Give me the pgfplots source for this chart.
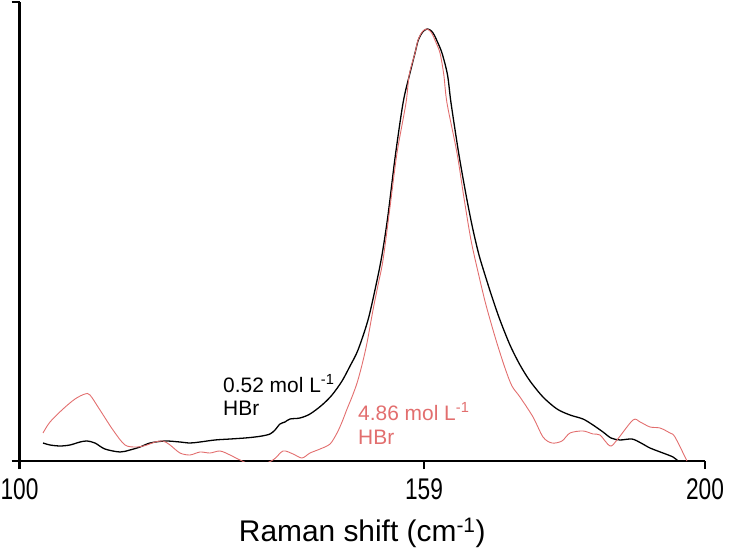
\documentclass[border=0pt]{standalone}
\usepackage{pgfplots}
\pgfplotsset{compat=1.18}
\usepackage{fontspec}
\setmainfont{Liberation Sans}
\newfontfamily\tickfont{Liberation Sans}[FakeStretch=0.76]

\definecolor{redline}{RGB}{226,110,110}

\begin{document}
\begin{tikzpicture}
\begin{axis}[
  scale only axis,
  width=685.5bp, height=459bp,
  xmin=100, xmax=200, ymin=0, ymax=100,
  axis x line=bottom, axis y line=left,
  axis line style={-, line width=2.2pt},
  xtick={100,159,200}, ytick={0,100}, yticklabels={},
  tick align=outside,
  major tick length=8bp,
  every tick/.style={black, line width=2.2pt},
  /pgf/number format/assume math mode=true,
  /pgf/number format/1000 sep={},
  xticklabel style={font=\tickfont\fontsize{30}{36}\selectfont, yshift=-6bp},
  xlabel={Raman shift (cm\textsuperscript{-1})},
  xlabel style={font=\fontsize{30}{36}\selectfont, yshift=-12bp},
]
\addplot[black, line width=1.3pt, smooth] coordinates {
(103.43,3.92) (104.45,3.49) (105.91,3.27) (107.37,3.49) (108.83,4.14)
(109.85,4.36) (111.01,3.92) (112.47,2.61) (114.66,1.96) (116.12,2.40)
(117.58,3.05) (119.04,3.92) (121.23,4.36) (123.41,4.14) (124.87,3.92)
(126.33,4.14) (128.52,4.58) (130.71,4.79) (132.90,5.01) (134.35,5.23)
(135.38,5.45) (136.54,5.88) (137.27,6.75) (138.00,8.06) (138.73,8.50)
(139.46,9.15) (140.92,9.37) (142.38,10.24) (144.13,12.20) (145.59,14.38)
(147.05,17.43) (148.22,20.70) (149.38,24.18) (150.84,30.72) (152.01,38.34)
(152.88,44.88) (153.76,53.59) (154.78,66.01) (155.95,78.00) (156.89,84.10)
(157.70,88.89) (158.13,91.50) (158.53,92.81) (158.95,93.68) (159.52,94.12)
(160.09,93.68) (160.50,92.81) (160.91,91.50) (161.63,88.89) (162.44,84.10)
(162.95,78.00) (164.11,66.67) (165.28,56.86) (166.16,50.33) (167.03,44.88)
(167.91,40.52) (168.93,35.73) (170.09,30.72) (171.55,25.27) (173.01,20.92)
(174.47,17.43) (176.37,13.94) (178.41,11.33) (180.31,10.02) (182.20,9.15)
(183.66,7.84) (185.12,6.32) (186.29,5.01) (187.60,4.58) (189.35,4.79)
(190.66,3.92) (191.98,2.83) (193.87,1.74) (195.34,0.87) (196.06,0)
};
\addplot[redline, line width=0.9pt, smooth] coordinates {
(103.43,6.10) (104.45,8.50) (106.35,11.33) (108.10,13.51) (109.55,14.60)
(110.28,14.38) (111.74,11.11) (113.64,6.75) (115.39,3.49) (117.14,3.05)
(118.60,3.49) (119.77,4.14) (120.93,4.36) (121.96,3.49) (123.41,1.74)
(124.87,1.31) (126.33,1.96) (127.79,1.74) (129.25,2.18) (130.71,1.31)
(132.17,0.22) (134.50,-1.10) (136.98,0.22) (138.44,2.18) (139.90,1.53)
(141.21,0.65) (142.38,1.74) (143.84,2.61) (145.30,3.70) (146.32,6.10)
(147.05,8.50) (147.78,11.33) (148.50,13.94) (149.24,16.99) (149.96,20.92)
(150.69,25.71) (151.57,32.90) (152.30,38.34) (153.03,43.79) (154.05,55.34)
(155.07,67.10) (156.38,78.00) (156.85,84.10) (157.70,88.89) (158.09,91.50)
(158.46,92.81) (158.85,93.68) (159.37,94.12) (159.90,93.68) (160.28,92.81)
(160.66,91.50) (161.34,88.89) (161.90,84.10) (162.36,78.00) (163.82,67.10)
(164.84,57.30) (165.86,48.15) (166.89,41.18) (168.05,33.99) (169.51,26.36)
(170.82,20.26) (171.84,16.34) (173.01,13.94) (174.91,9.59) (176.37,5.23)
(177.68,3.92) (179.14,4.36) (180.31,6.10) (182.20,6.54) (183.66,5.88)
(184.68,5.66) (186.14,3.27) (187.16,4.58) (189.49,8.93) (190.52,8.50)
(191.98,7.41) (193.43,7.19) (194.89,6.10) (195.62,5.23) (197.37,0)
};
\node[anchor=base west, inner sep=0pt, font=\fontsize{21}{25}\selectfont]
  at (axis cs:129.69,15.03) {0.52 mol L\textsuperscript{-1}};
\node[anchor=base west, inner sep=0pt, font=\fontsize{21}{25}\selectfont]
  at (axis cs:129.69,10.02) {HBr};
\node[anchor=base west, inner sep=0pt, text=redline, font=\fontsize{21}{25}\selectfont]
  at (axis cs:149.38,8.93) {4.86 mol L\textsuperscript{-1}};
\node[anchor=base west, inner sep=0pt, text=redline, font=\fontsize{21}{25}\selectfont]
  at (axis cs:149.38,3.49) {HBr};
\end{axis}
\pgfresetboundingbox
\path[use as bounding box] (-19.5bp,-87bp) rectangle (709.5bp,461bp);
\end{tikzpicture}
\end{document}
